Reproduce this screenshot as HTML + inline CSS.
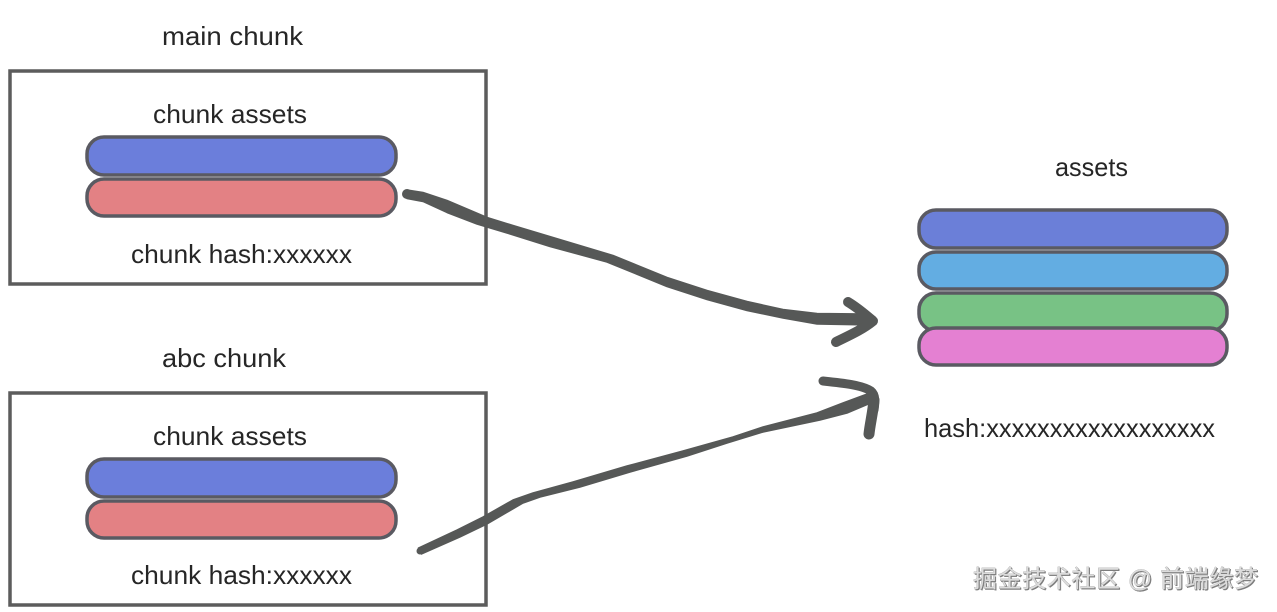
<!DOCTYPE html>
<html>
<head>
<meta charset="utf-8">
<style>
html,body{margin:0;padding:0;background:#fff;width:1277px;height:612px;overflow:hidden}
svg{display:block}
text{font-family:"Liberation Sans","Noto Sans CJK SC",sans-serif;fill:#262626;font-size:26px}
.wm{font-size:24px;fill:#dcdcdc;stroke:#8a8a8a;stroke-width:.4px;paint-order:stroke;filter:drop-shadow(1px 1px 0 #7d7d7d)}
.p{stroke:#5a5a62;stroke-width:3.5}
.a{fill:none;stroke:#565857;stroke-linecap:round;stroke-linejoin:round}
.f{fill:#565857;stroke:#565857;stroke-width:1.5;stroke-linejoin:round}
</style>
</head>
<body>
<svg width="1277" height="612" viewBox="0 0 1277 612" xmlns="http://www.w3.org/2000/svg">
<rect x="10" y="71" width="476" height="213" fill="#fff" stroke="#5c5c5c" stroke-width="3.5"/>
<rect x="10" y="393" width="476" height="212" fill="#fff" stroke="#5c5c5c" stroke-width="3.5"/>

<text x="162" y="45" textLength="141" lengthAdjust="spacingAndGlyphs">main chunk</text>
<text x="153" y="123" textLength="154" lengthAdjust="spacingAndGlyphs">chunk assets</text>
<text x="131" y="263" textLength="221" lengthAdjust="spacingAndGlyphs">chunk hash:xxxxxx</text>
<text x="162" y="367" textLength="124" lengthAdjust="spacingAndGlyphs">abc chunk</text>
<text x="153" y="445" textLength="154" lengthAdjust="spacingAndGlyphs">chunk assets</text>
<text x="131" y="584" textLength="221" lengthAdjust="spacingAndGlyphs">chunk hash:xxxxxx</text>
<text x="1055" y="176" textLength="73" lengthAdjust="spacingAndGlyphs">assets</text>
<text x="924" y="437" textLength="291" lengthAdjust="spacingAndGlyphs">hash:xxxxxxxxxxxxxxxxxx</text>

<rect class="p" x="87" y="137" width="309" height="38" rx="17" fill="#6b7edb"/>
<rect class="p" x="87" y="179" width="309" height="37" rx="17" fill="#e38184"/>
<rect class="p" x="87" y="459" width="309" height="38" rx="17" fill="#6b7edb"/>
<rect class="p" x="87" y="501" width="309" height="37" rx="17" fill="#e38184"/>

<rect class="p" x="919" y="210" width="308" height="38" rx="17" fill="#6b7fd8"/>
<rect class="p" x="919" y="252" width="308" height="37" rx="17" fill="#63ade2"/>
<rect class="p" x="919" y="293" width="308" height="38" rx="17" fill="#78c285"/>
<rect class="p" x="919" y="328" width="308" height="37" rx="17" fill="#e480d2"/>

<polygon class="f" points="407,190 423,192.500 447,200.500 487,217.500 513,225.500 553,237.500 613,255.500 667,277.500 707,290.500 747,301.500 783,309.500 817,313.500 866,314 872,325 817,324 783,318 747,310.500 707,299.500 667,286.500 607,262 550,246.500 507,233 477,224 447,212.500 423,201.500 407,198.500"/>
<circle cx="407" cy="194" r="5" fill="#565857"/>
<path class="a" stroke-width="10" d="M848 302C858 308 866 315 873 321C862 330 848 336 836 342"/>

<polygon class="f" points="418.500,548 457,530 483,517 513,500 533,493 573,482 627,466 683,451 733,437 763,427 817,413 843,403 870,393 873,402 847,413 820,420 763,432 727,443 687,456 630,472 580,487 540,497 523,503 487,524 460,537 421.500,554"/>
<circle cx="420" cy="551" r="3.500" fill="#565857"/>
<path class="a" stroke-width="9" d="M823 381C842 383 862 385 871 391C876 395 875 403 874 410"/>
<path class="a" stroke-width="11" d="M874 400C873 412 870 424 869 434"/>

<text class="wm" x="973" y="587" textLength="285" lengthAdjust="spacing">掘金技术社区 @ 前端缘梦</text>
</svg>
</body>
</html>
